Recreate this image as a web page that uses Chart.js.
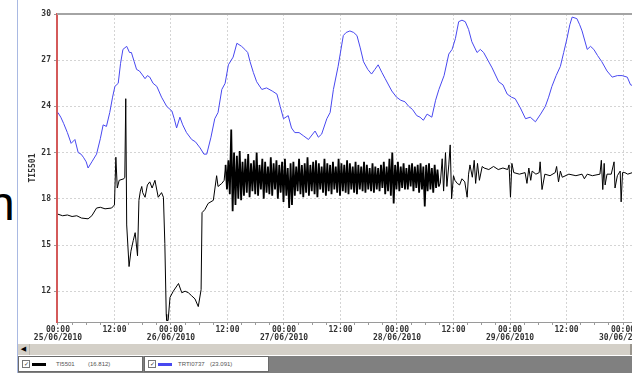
<!DOCTYPE html>
<html>
<head>
<meta charset="utf-8">
<script src="https://cdn.jsdelivr.net/npm/chart.js@4"></script>
<style>
    html, body { margin: 0; padding: 0; background: #fff; }
    body { width: 632px; height: 373px; overflow: hidden; position: relative; font-family: 'DejaVu Sans', sans-serif; }
    #slide-text { position: absolute; left: -12px; top: 176px; font: 48px 'Liberation Sans', sans-serif; color: #000; }
    #edge { position: absolute; left: 17px; top: 0; width: 1px; height: 373px; background: #a9b9e2; }
    #chart-box { position: absolute; left: 18px; top: 0; width: 700px; height: 343px; }
    #scrollbar { position: absolute; left: 18px; top: 344px; width: 612px; height: 11px; background: #d4d0c8; border-right: 2px solid #9a968e; }
    #scrollbar .btn { position: absolute; left: 0; top: 0; width: 11px; height: 11px; background: #d4d0c8; border-right: 1px solid #b8b4ac; font-size: 7px; line-height: 11px; text-align: center; color: #000; }
    #legend-row { position: absolute; left: 18px; top: 356px; width: 614px; height: 17px; background: #808080; display: flex; }
    .legend-item { position: relative; width: 123px; height: 14px; background: #fff; border: 1px solid #6a6a6a; margin-right: 1px; font: 6px 'Liberation Sans', sans-serif; color: #555; }
    .legend-item .chk { position: absolute; left: 3px; top: 3px; width: 6px; height: 6px; border: 1px solid #777; font-size: 6px; line-height: 6px; text-align: center; color: #333; }
    .legend-item .swatch { position: absolute; left: 13px; top: 6px; width: 14px; height: 3px; }
    .legend-item .name { position: absolute; top: 4px; }
    .legend-item .val { position: absolute; top: 4px; }
</style>
</head>
<body>
<div id="slide-text">n</div>
<div id="edge"></div>
<div id="chart-box"><canvas id="trend"></canvas></div>
<div id="scrollbar"><div class="btn">&#9664;</div></div>
<div id="legend-row"></div>

<script>
// Series names and readouts shown in the legend strip
const seriesNames = ['TI5501', 'TRTI0737'];
const seriesReadouts = ['(16.812)', '(23.091)'];
const seriesColors = ['#000000', '#4848f0'];

// Axis labels
const timeLabels = ['00:00', '12:00'];
const dayLabels = ['25/06/2010', '26/06/2010', '27/06/2010', '28/06/2010', '29/06/2010', '30/06/2010'];
const yTicks = [12, 15, 18, 21, 24, 27, 30];

// TRTI0737 (blue), hours since 25/06 00:00
const blueHours = [0, 0.6, 1.2, 2.0, 2.8, 3.6, 4.3, 4.9, 5.4, 6.0,
    6.4, 7.2, 8.2, 9.0, 9.6, 10.3, 11.0, 11.6, 12.1, 12.8,
    13.3, 13.8, 14.6, 15.2, 15.6, 16.2, 16.7, 17.3, 17.8, 18.5,
    19.0, 19.5, 20.2, 21.0, 22.0, 23.1, 24.2, 24.7, 25.2, 25.9,
    26.5, 27.3, 28.4, 29.2, 30.2, 31.0, 31.6, 32.5, 33.3, 34.0,
    34.8, 35.5, 36.2, 37.2, 38.0, 39.0, 39.7, 40.3, 40.8, 41.5,
    42.2, 43.3, 44.3, 45.5, 46.5, 47.2, 47.9, 48.9, 49.6, 50.3,
    51.2, 52.1, 53.2, 54.6, 55.3, 56.0, 57.1, 57.8, 58.5, 59.5,
    60.6, 61.2, 62.0, 62.8, 63.5, 64.2, 64.9, 65.8, 66.6, 67.3,
    68.0, 68.8, 69.5, 70.9, 71.9, 72.8, 73.7, 74.5, 75.3, 76.2,
    76.9, 77.6, 78.4, 79.4, 80.2, 80.9, 82.0, 83.0, 83.7, 84.4,
    85.1, 85.8, 86.5, 87.2, 87.9, 89.0, 89.7, 90.4, 91.3, 92.2,
    93.6, 94.5, 95.4, 96.3, 97.1, 98.2, 99.3, 100.3, 101.4, 102.5,
    103.5, 104.2, 104.9, 105.8, 106.7, 107.4, 108.1, 108.7, 109.2, 110.2,
    110.8, 111.3, 112.4, 113.1, 113.8, 114.6, 115.5, 116.6, 117.7, 118.8,
    119.8, 120.9, 121.6, 122.6];
const blueTemps = [23.6, 23.3, 22.9, 22.3, 21.6, 21.85, 21.0, 20.9, 20.7, 20.4,
    20.0, 20.4, 20.9, 21.9, 22.8, 22.7, 23.6, 24.6, 25.3, 25.5,
    26.8, 27.7, 27.9, 27.5, 27.5, 26.9, 26.4, 26.3, 26.1, 25.8,
    26.0, 25.9, 25.5, 25.3, 24.6, 24.0, 23.7, 23.2, 22.6, 23.3,
    22.8, 22.3, 21.85, 21.7, 21.3, 20.9, 20.9, 22.0, 23.2, 23.6,
    25.1, 25.5, 26.7, 27.2, 28.1, 27.9, 27.7, 27.5, 26.9, 26.2,
    25.6, 25.1, 25.2, 25.0, 24.8, 24.0, 23.2, 23.4, 22.6, 22.3,
    22.3, 22.1, 21.85, 22.4, 22.0, 22.2, 23.2, 23.6, 25.1, 26.6,
    28.6, 28.8, 28.9, 28.8, 28.6, 27.8, 26.9, 26.4, 26.1, 26.4,
    26.7, 26.2, 25.8, 25.0, 24.6, 24.4, 24.3, 24.0, 23.8, 23.4,
    23.3, 23.1, 23.5, 23.3, 24.4, 25.1, 26.0, 27.4, 27.7, 28.4,
    29.5, 29.6, 29.5, 29.0, 28.2, 27.5, 27.7, 27.5, 27.0, 26.5,
    25.6, 25.4, 24.8, 24.6, 24.5, 23.9, 23.2, 23.3, 23.0, 23.5,
    24.0, 24.6, 25.3, 26.0, 26.6, 27.5, 28.4, 29.3, 29.8, 29.7,
    29.3, 28.9, 27.7, 27.9, 27.7, 27.3, 26.9, 26.3, 25.9, 26.0,
    26.0, 25.9, 25.4, 25.3];

// TI5501 (black): first day and a half
const blackHeadHours = [0, 1, 2, 3, 4, 5, 6.4, 7.2, 8.2, 9,
    10, 11.4, 12.0, 12.3, 12.6, 13.0, 14.0, 14.2, 14.4, 14.6,
    15.1, 15.5, 16.0, 16.4, 16.9, 17.2, 17.5, 17.8, 18.0, 18.5,
    19.0, 19.5, 20.0, 20.6, 21.3, 22.0, 22.4, 22.7, 23.0, 23.1,
    23.4, 23.8, 24.5, 25.6, 26.3, 27.0, 27.7, 28.4, 29.1, 29.8,
    30.4, 30.6, 31.2, 31.9, 33.0, 33.7, 34.0, 34.8, 35.3];
const blackHeadTemps = [17.0, 16.9, 16.95, 16.85, 16.9, 16.75, 16.7, 16.9, 17.4, 17.45,
    17.35, 17.4, 17.6, 20.7, 18.7, 19.2, 19.3, 19.4, 24.5, 16.3,
    13.6, 14.6, 15.3, 15.8, 14.3, 17.9, 18.5, 18.8, 18.4, 18.1,
    18.9, 19.1, 18.7, 19.2, 18.1, 18.4, 18.1, 15.1, 10.5, 10.1,
    10.1, 11.6, 12.0, 12.5, 11.9, 12.0, 11.9, 11.7, 11.5, 11.0,
    12.1, 17.1, 17.3, 17.7, 17.9, 19.5, 18.8, 19.0, 19.2];

// TI5501 (black): oscillating stretch, one reading every 0.3 h from 35.6 h
const noiseStartHour = 35.6;
const noiseStepHours = 0.3;
const noiseTemps = [
    20.2, 18.6, 20.5, 18.3, 22.5, 17.2, 21.0, 17.6, 20.8, 18.0, 21.1, 17.9,
    20.4, 18.2, 20.6, 18.4, 20.9, 18.1, 20.3, 18.5, 20.5, 18.3, 21.0, 18.2,
    20.2, 18.6, 20.6, 18.0, 20.4, 18.4, 20.1, 18.3, 20.7, 18.2, 20.3, 18.6,
    20.5, 18.0, 20.2, 18.4, 20.4, 17.8, 20.6, 18.2, 20.0, 17.4, 20.3, 17.6,
    20.4, 18.2, 20.1, 18.5, 20.6, 18.3, 20.2, 18.1, 20.3, 18.4, 20.7, 18.2,
    20.2, 18.5, 20.4, 18.3, 20.5, 18.1, 20.3, 18.6, 20.1, 18.4, 20.6, 18.2,
    20.3, 18.5, 20.2, 18.3, 20.4, 18.6, 20.1, 18.4, 20.6, 18.2, 20.3, 18.5,
    20.2, 18.4, 20.5, 18.3, 20.3, 18.6, 20.1, 18.4, 20.4, 18.3, 20.2, 18.6,
    20.1, 18.5, 20.4, 18.4, 20.2, 18.6, 20.0, 18.5, 20.3, 18.4, 20.1, 18.6,
    20.0, 18.5, 20.2, 18.7, 20.4, 18.3, 20.1, 18.5, 20.6, 18.2, 21.0, 17.7,
    20.2, 18.6, 20.4, 18.5, 20.1, 18.7, 20.3, 18.6, 20.0, 18.6, 20.2, 18.8,
    20.3, 18.5, 20.1, 18.7, 20.2, 18.4, 20.3, 18.6, 20.1, 17.5, 20.2, 18.5,
    20.3, 18.6, 20.0, 18.4, 20.2, 18.7, 19.9, 18.8];
const noiseEndHour = noiseStartHour + (noiseTemps.length - 1) * noiseStepHours;

// TI5501 (black): calmer last days with occasional spikes
const blackTailHours = [81.2, 81.6, 81.9, 82.3, 82.6, 83.0, 83.3, 83.6, 84.0, 84.3,
    84.8, 85.3, 85.8, 86.4, 86.9, 87.2, 87.5, 88.0, 88.4, 88.7,
    89.1, 89.5, 90.1, 90.5, 91.5, 92.5, 93.5, 94.5, 95.5, 95.8,
    96.1, 96.4, 96.8, 98.0, 99.2, 99.6, 100.0, 100.4, 100.7, 101.5,
    102.2, 102.4, 102.8, 103.4, 104.5, 105.6, 105.9, 106.3, 106.7, 107.1,
    108.5, 110.0, 111.3, 111.8, 112.4, 113.5, 115.1, 115.4, 115.7, 116.0,
    116.2, 116.6, 117.5, 118.1, 118.3, 118.8, 119.4, 119.6, 119.9, 120.4,
    121.0, 122.0];
const blackTailTemps = [19.0, 20.6, 18.5, 21.0, 18.8, 20.2, 21.5, 18.0, 19.5, 19.2,
    19.0, 18.9, 19.3, 19.1, 18.1, 19.6, 20.2, 19.4, 20.5, 19.0,
    20.3, 19.2, 20.1, 20.0, 19.9, 20.1, 19.9, 20.0, 19.9, 20.2,
    18.1, 20.3, 19.7, 19.6, 19.7, 19.0, 20.0, 19.2, 19.8, 19.6,
    19.7, 20.4, 18.6, 19.6, 19.5, 19.7, 20.1, 19.1, 19.8, 19.4,
    19.6, 19.5, 19.6, 19.3, 19.6, 19.5, 19.6, 20.5, 18.6, 20.3,
    18.9, 19.6, 19.6, 20.4, 18.7, 19.5, 19.8, 17.8, 19.7, 19.7,
    19.6, 19.7];

// Build point lists
const bluePoints = blueHours.map((h, i) => ({ x: h, y: blueTemps[i] }));
const blackPoints = blackHeadHours.map((h, i) => ({ x: h, y: blackHeadTemps[i] }));
noiseTemps.forEach((t, i) => {
    blackPoints.push({ x: +(noiseStartHour + i * noiseStepHours).toFixed(2), y: t });
});
blackTailHours.forEach((h, i) => blackPoints.push({ x: h, y: blackTailTemps[i] }));

// Legend strip below the chart
const legendRow = document.getElementById('legend-row');
const nameLeft = [37, 33];
const valLeft = [69, 65];
seriesNames.forEach((name, i) => {
    const item = document.createElement('div');
    item.className = 'legend-item';
    item.innerHTML = `
        <span class="chk">&#10003;</span>
        <span class="swatch" style="background:${seriesColors[i]}"></span>
        <span class="name" style="left:${nameLeft[i]}px">${name}</span>
        <span class="val" style="left:${valLeft[i]}px">${seriesReadouts[i]}</span>`;
    legendRow.appendChild(item);
});

// Top frame line of the plot
const frameTop = {
    id: 'frameTop',
    afterDraw(chart) {
        const { ctx, chartArea } = chart;
        ctx.save();
        ctx.strokeStyle = '#a4a4a4';
        ctx.lineWidth = 2;
        ctx.beginPath();
        ctx.moveTo(chartArea.left, chartArea.top);
        ctx.lineTo(chartArea.right, chartArea.top);
        ctx.stroke();
        ctx.restore();
    }
};

const tickFont = { family: "'DejaVu Sans Mono', monospace", size: 8, weight: 'bold', lineHeight: 1.0 };

new Chart(document.getElementById('trend').getContext('2d'), {
    type: 'line',
    data: {
        datasets: [{
            label: seriesNames[0],
            data: blackPoints,
            borderColor: seriesColors[0],
            borderWidth: 1,
            pointRadius: 0,
            tension: 0,
            segment: {
                // the dense oscillation reads as a solid band in the original
                borderWidth: (ctx) => (ctx.p0.parsed.x >= noiseStartHour && ctx.p1.parsed.x <= noiseEndHour) ? 1.8 : 1
            }
        }, {
            label: seriesNames[1],
            data: bluePoints,
            borderColor: seriesColors[1],
            borderWidth: 1,
            pointRadius: 0,
            tension: 0
        }]
    },
    options: {
        responsive: true,
        maintainAspectRatio: false,
        animation: false,
        events: [],
        layout: { padding: { top: 14, right: 30, left: 0, bottom: 0 } },
        plugins: { legend: { display: false }, tooltip: { enabled: false } },
        scales: {
            x: {
                type: 'linear',
                min: -0.2,
                max: 133.8,
                afterBuildTicks: (scale) => {
                    const ticks = [];
                    for (let h = 0; h <= scale.max; h += 3) ticks.push({ value: h });
                    scale.ticks = ticks;
                },
                afterFit: (scale) => { scale.height = 21; },
                ticks: {
                    autoSkip: false,
                    maxRotation: 0,
                    padding: 1,
                    color: '#333',
                    font: tickFont,
                    callback: (value) => {
                        if (value % 24 === 0) return [timeLabels[0], dayLabels[value / 24] || ''];
                        if (value % 12 === 0) return timeLabels[1];
                        return '';
                    }
                },
                grid: {
                    color: (ctx) => (ctx.tick && ctx.tick.value % 12 === 0) ? '#d4d4d4' : 'rgba(0,0,0,0)',
                    tickColor: '#9a9a9a',
                    tickLength: 3,
                    tickBorderDash: []
                },
                border: { color: '#9a9a9a', width: 1, dash: [2, 2] }
            },
            y: {
                min: 10,
                max: 30,
                afterBuildTicks: (scale) => { scale.ticks = yTicks.map(v => ({ value: v })); },
                afterFit: (scale) => { scale.width = 39; },
                ticks: { padding: 3, color: '#333', font: tickFont },
                title: {
                    display: true,
                    text: seriesNames[0],
                    color: '#333',
                    font: { family: "'DejaVu Sans Mono', monospace", size: 8, weight: 'bold' },
                    padding: { top: 10, bottom: 0 }
                },
                grid: { color: '#d4d4d4', tickLength: 3, tickColor: '#9a9a9a', tickBorderDash: [] },
                border: { color: '#d45a5a', width: 2, dash: [2, 2] }
            }
        }
    },
    plugins: [frameTop]
});
</script>
</body>
</html>
